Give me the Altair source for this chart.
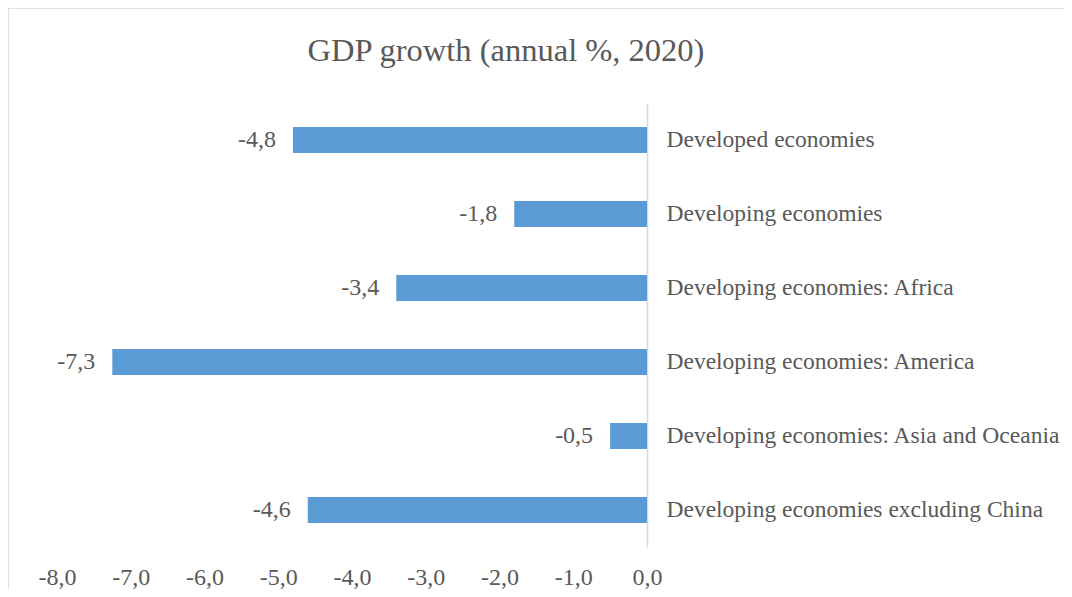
import altair as alt
import pandas as pd

categories = [
    "Developed economies",
    "Developing economies",
    "Developing economies: Africa",
    "Developing economies: America",
    "Developing economies: Asia and Oceania",
    "Developing economies excluding China",
]
growth = [-4.8, -1.8, -3.4, -7.25, -0.5, -4.6]
x_ticks = [-8, -7, -6, -5, -4, -3, -2, -1, 0]

df = pd.DataFrame({"category": categories, "growth": growth})

FONT = "'Liberation Serif', 'Times New Roman', 'DejaVu Serif', serif"
TEXT = "#595959"
BAR = "#5B9BD5"
LINE = "#D9D9D9"
LBL = "replace(replace(format(datum.value, '.1f'), '.', ','), '\u2212', '-')"

base = alt.Chart(df)

y_enc = alt.Y(
    "category:N",
    sort=categories,
    scale=alt.Scale(paddingInner=0.65, paddingOuter=0.325),
    axis=alt.Axis(
        orient="right", title=None, ticks=False, domain=True,
        domainColor=LINE, domainWidth=1.5, labelAlign="left",
        labelPadding=19, labelFont=FONT, labelFontSize=23.5,
        labelColor=TEXT, labelLimit=0, grid=False,
    ),
)
x_enc = alt.X(
    "growth:Q",
    scale=alt.Scale(domain=[-8, 0], nice=False),
    axis=alt.Axis(
        values=x_ticks, title=None, ticks=False, domain=False, grid=False,
        labelExpr=LBL, labelFont=FONT, labelFontSize=24, labelColor=TEXT,
        labelPadding=37, labelBaseline="alphabetic", labelFlush=False,
        labelOverlap=False,
    ),
)

bars = base.mark_bar(color=BAR).encode(x=x_enc, y=y_enc)

labels = base.mark_text(
    align="right", baseline="middle", dx=-17, font=FONT, fontSize=24, color=TEXT
).encode(
    x="growth:Q",
    y=alt.Y("category:N", sort=categories),
    text=alt.Text("label:N"),
).transform_calculate(
    label="replace(replace(format(datum.growth, '.1f'), '.', ','), '\u2212', '-')"
)

border = alt.Chart(alt.Data(values=[{}])).mark_rect(
    filled=False, stroke=LINE, strokeWidth=1.5
).encode(
    x=alt.value(-49), x2=alt.value(1100), y=alt.value(-95), y2=alt.value(600)
)

chart = alt.layer(border, bars, labels).properties(
    width=590,
    height=444,
    padding={"left": 49, "top": 95, "right": 417, "bottom": 42},
    autosize=alt.AutoSizeParams(type="none"),
    title=alt.Title(
        "GDP growth (annual %, 2020)", font=FONT, fontSize=32.5,
        fontWeight="normal", color=TEXT, anchor="middle", dx=154, offset=-60,
    ),
).configure_view(stroke=None)

chart.save("out.html", embed_options={"renderer": "svg", "actions": False})
